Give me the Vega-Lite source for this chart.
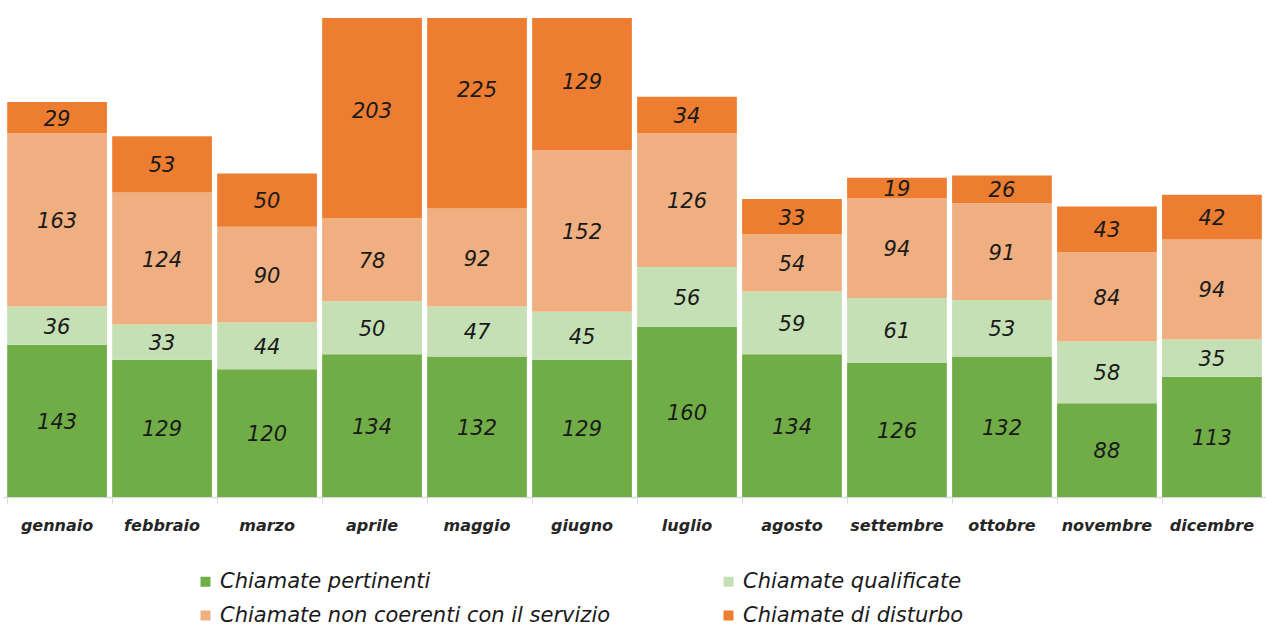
{
  "$schema": "https://vega.github.io/schema/vega-lite/v6.json",
  "autosize": {"type": "none"},
  "width": 1263,
  "height": 479,
  "padding": {"left": 3, "top": 18, "right": 0, "bottom": 131},
  "background": "white",
  "config": {"view": {"stroke": null}, "font": "DejaVu Sans"},
  "data": {"values": [
    {"mese": "gennaio", "serie": "Chiamate pertinenti", "k": 1, "valore": 143},
    {"mese": "gennaio", "serie": "Chiamate qualificate", "k": 2, "valore": 36},
    {"mese": "gennaio", "serie": "Chiamate non coerenti con il servizio", "k": 3, "valore": 163},
    {"mese": "gennaio", "serie": "Chiamate di disturbo", "k": 4, "valore": 29},
    {"mese": "febbraio", "serie": "Chiamate pertinenti", "k": 1, "valore": 129},
    {"mese": "febbraio", "serie": "Chiamate qualificate", "k": 2, "valore": 33},
    {"mese": "febbraio", "serie": "Chiamate non coerenti con il servizio", "k": 3, "valore": 124},
    {"mese": "febbraio", "serie": "Chiamate di disturbo", "k": 4, "valore": 53},
    {"mese": "marzo", "serie": "Chiamate pertinenti", "k": 1, "valore": 120},
    {"mese": "marzo", "serie": "Chiamate qualificate", "k": 2, "valore": 44},
    {"mese": "marzo", "serie": "Chiamate non coerenti con il servizio", "k": 3, "valore": 90},
    {"mese": "marzo", "serie": "Chiamate di disturbo", "k": 4, "valore": 50},
    {"mese": "aprile", "serie": "Chiamate pertinenti", "k": 1, "valore": 134},
    {"mese": "aprile", "serie": "Chiamate qualificate", "k": 2, "valore": 50},
    {"mese": "aprile", "serie": "Chiamate non coerenti con il servizio", "k": 3, "valore": 78},
    {"mese": "aprile", "serie": "Chiamate di disturbo", "k": 4, "valore": 203},
    {"mese": "maggio", "serie": "Chiamate pertinenti", "k": 1, "valore": 132},
    {"mese": "maggio", "serie": "Chiamate qualificate", "k": 2, "valore": 47},
    {"mese": "maggio", "serie": "Chiamate non coerenti con il servizio", "k": 3, "valore": 92},
    {"mese": "maggio", "serie": "Chiamate di disturbo", "k": 4, "valore": 225},
    {"mese": "giugno", "serie": "Chiamate pertinenti", "k": 1, "valore": 129},
    {"mese": "giugno", "serie": "Chiamate qualificate", "k": 2, "valore": 45},
    {"mese": "giugno", "serie": "Chiamate non coerenti con il servizio", "k": 3, "valore": 152},
    {"mese": "giugno", "serie": "Chiamate di disturbo", "k": 4, "valore": 129},
    {"mese": "luglio", "serie": "Chiamate pertinenti", "k": 1, "valore": 160},
    {"mese": "luglio", "serie": "Chiamate qualificate", "k": 2, "valore": 56},
    {"mese": "luglio", "serie": "Chiamate non coerenti con il servizio", "k": 3, "valore": 126},
    {"mese": "luglio", "serie": "Chiamate di disturbo", "k": 4, "valore": 34},
    {"mese": "agosto", "serie": "Chiamate pertinenti", "k": 1, "valore": 134},
    {"mese": "agosto", "serie": "Chiamate qualificate", "k": 2, "valore": 59},
    {"mese": "agosto", "serie": "Chiamate non coerenti con il servizio", "k": 3, "valore": 54},
    {"mese": "agosto", "serie": "Chiamate di disturbo", "k": 4, "valore": 33},
    {"mese": "settembre", "serie": "Chiamate pertinenti", "k": 1, "valore": 126},
    {"mese": "settembre", "serie": "Chiamate qualificate", "k": 2, "valore": 61},
    {"mese": "settembre", "serie": "Chiamate non coerenti con il servizio", "k": 3, "valore": 94},
    {"mese": "settembre", "serie": "Chiamate di disturbo", "k": 4, "valore": 19},
    {"mese": "ottobre", "serie": "Chiamate pertinenti", "k": 1, "valore": 132},
    {"mese": "ottobre", "serie": "Chiamate qualificate", "k": 2, "valore": 53},
    {"mese": "ottobre", "serie": "Chiamate non coerenti con il servizio", "k": 3, "valore": 91},
    {"mese": "ottobre", "serie": "Chiamate di disturbo", "k": 4, "valore": 26},
    {"mese": "novembre", "serie": "Chiamate pertinenti", "k": 1, "valore": 88},
    {"mese": "novembre", "serie": "Chiamate qualificate", "k": 2, "valore": 58},
    {"mese": "novembre", "serie": "Chiamate non coerenti con il servizio", "k": 3, "valore": 84},
    {"mese": "novembre", "serie": "Chiamate di disturbo", "k": 4, "valore": 43},
    {"mese": "dicembre", "serie": "Chiamate pertinenti", "k": 1, "valore": 113},
    {"mese": "dicembre", "serie": "Chiamate qualificate", "k": 2, "valore": 35},
    {"mese": "dicembre", "serie": "Chiamate non coerenti con il servizio", "k": 3, "valore": 94},
    {"mese": "dicembre", "serie": "Chiamate di disturbo", "k": 4, "valore": 42}
  ]},
  "encoding": {
    "x": {
      "field": "mese", "type": "nominal", "sort": null,
      "scale": {"paddingInner": 0.05, "paddingOuter": 0.04},
      "axis": {
        "title": null, "labelAngle": 0, "labelFont": "DejaVu Sans", "labelFontSize": 16,
        "labelFontWeight": "bold", "labelFontStyle": "italic", "labelColor": "#262626",
        "domainColor": "#d9d9d9", "domainWidth": 1.5, "tickColor": "#d9d9d9", "tickSize": 6,
        "bandPosition": 0, "labelPadding": 14
      }
    },
    "y": {
      "field": "valore", "type": "quantitative", "stack": "zero",
      "scale": {"domain": [0, 450], "nice": false},
      "axis": null
    },
    "order": {"field": "k", "type": "quantitative"}
  },
  "layer": [
    {
      "mark": {"type": "bar", "clip": true},
      "encoding": {
        "color": {
          "field": "serie", "type": "nominal",
          "scale": {
            "domain": ["Chiamate pertinenti", "Chiamate non coerenti con il servizio", "Chiamate qualificate", "Chiamate di disturbo"],
            "range": ["#70AD47", "#F0AF80", "#C5E0B4", "#ED7D31"]
          },
          "legend": {
            "title": null, "orient": "none", "legendX": 192, "legendY": 553,
            "columns": 2, "columnPadding": 107, "rowPadding": 12,
            "symbolType": "square", "symbolSize": 100, "symbolStrokeWidth": 0,
            "labelFont": "DejaVu Sans", "labelFontSize": 21, "labelFontStyle": "italic",
            "labelColor": "#1a1a1a", "labelOffset": 4, "labelLimit": 600
          }
        }
      }
    },
    {
      "mark": {"type": "text", "font": "DejaVu Sans", "fontSize": 21, "fontStyle": "italic", "color": "#1a1a1a", "baseline": "middle", "dy": 2},
      "encoding": {
        "y": {"field": "valore", "type": "quantitative", "stack": "zero", "bandPosition": 0.5},
        "text": {"field": "valore", "type": "quantitative"}
      }
    }
  ]
}
